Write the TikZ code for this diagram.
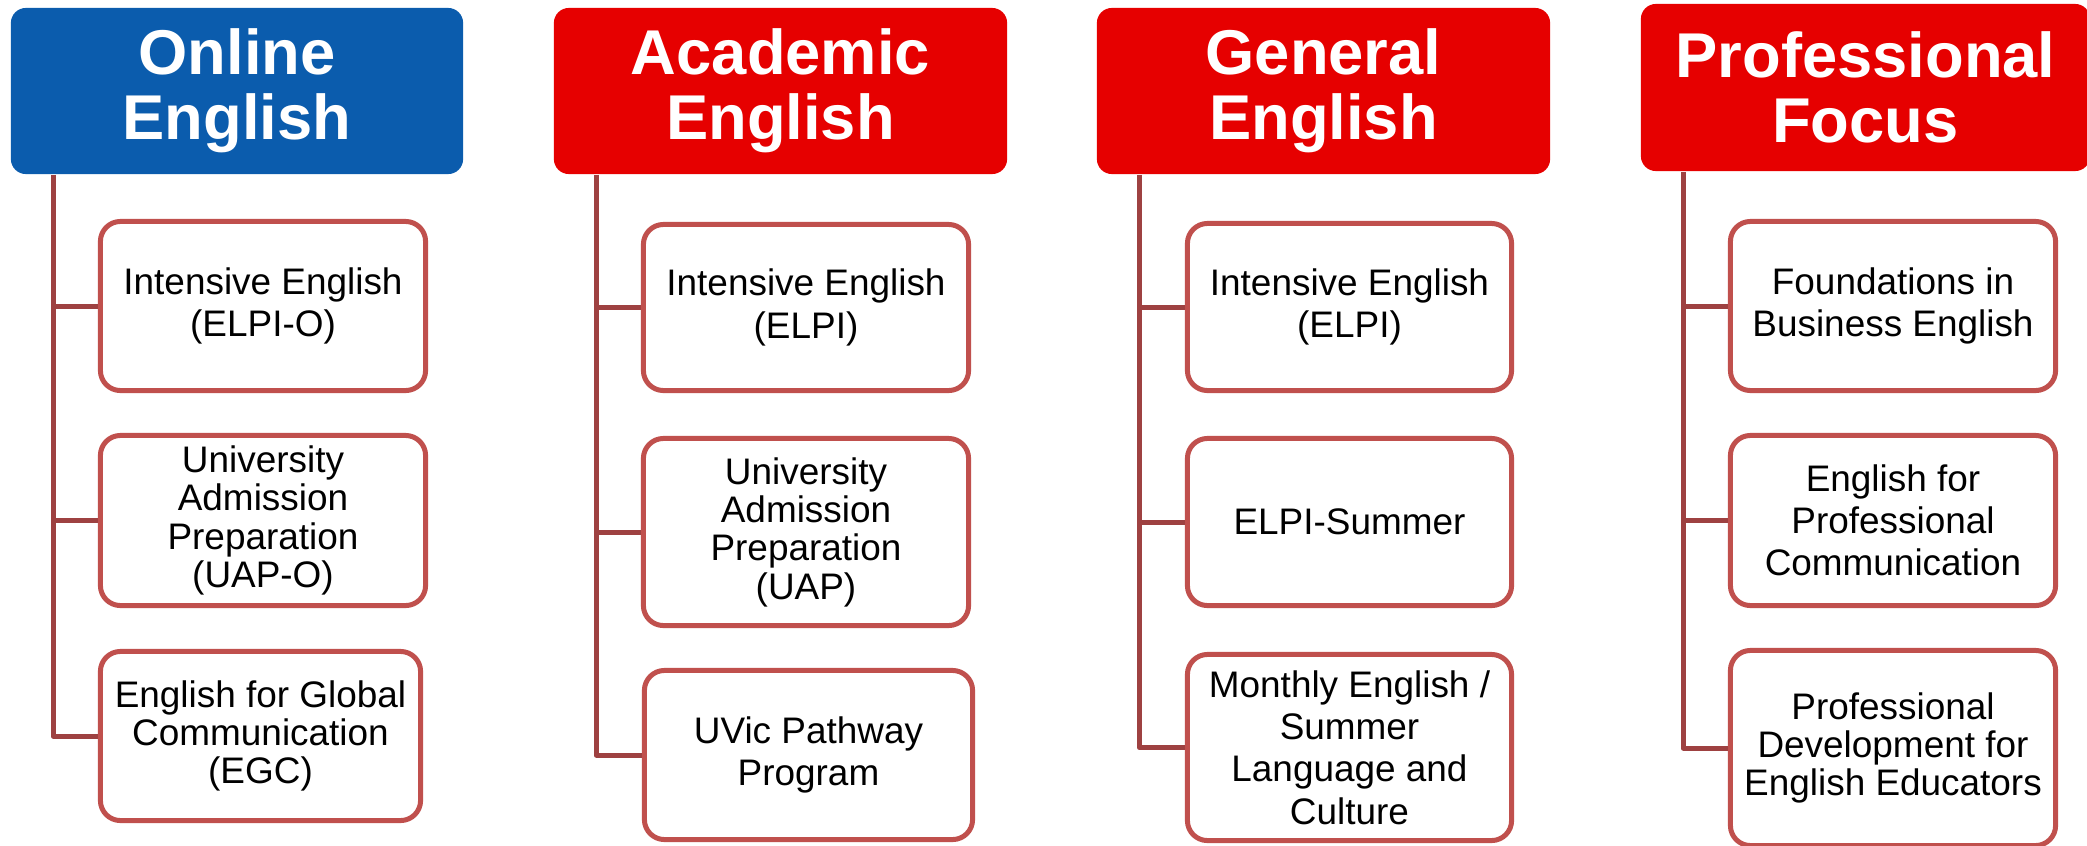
\documentclass[tikz,border=0pt]{standalone}
\usepackage{fontspec}
\setmainfont{Liberation Sans}
\usepackage{xcolor}

\definecolor{headblue}{HTML}{0B5CAD}
\definecolor{headred}{HTML}{E60000}
\definecolor{boxred}{HTML}{C0504D}
\definecolor{linkred}{HTML}{9E4141}

\begin{document}
\begin{tikzpicture}[x=0.01cm, y=-0.01cm,
  head/.style={fill=#1, rounded corners=0.15cm, text=white, inner sep=0pt,
    font=\fontsize{18}{18.5}\selectfont\bfseries, align=center},
  item/.style={draw=boxred, line width=0.05cm, fill=white, rounded corners=0.2cm,
    inner sep=0pt, font=\fontsize{10.5}{12}\selectfont, align=center},
  tight/.style={font=\fontsize{10.5}{10.9}\selectfont},
  link/.style={draw=linkred, line width=0.05cm, line join=round}]

\useasboundingbox (0,0) rectangle (2087,845);

% headers
\node[head=headblue, minimum width=4.52cm, minimum height=1.66cm] (online) at (237,91) {Online\\English};
\node[head=headred, minimum width=4.53cm, minimum height=1.66cm] (academic) at (780.5,91) {Academic\\English};
\node[head=headred, minimum width=4.53cm, minimum height=1.66cm] (general) at (1323.5,91) {General\\English};
\node[head=headred, minimum width=4.49cm, minimum height=1.67cm] (prof) at (1865.5,87.5) {Professional\\Focus};

% Online English
\node[item, minimum width=3.25cm, minimum height=1.69cm] (online1) at (263,306) {Intensive English\\(ELPI-O)};
\node[item, tight, minimum width=3.25cm, minimum height=1.70cm] (online2) at (263,520.5) {University\\Admission\\Preparation\\(UAP-O)};
\node[item, tight, minimum width=3.20cm, minimum height=1.69cm] (online3) at (260.5,736) {English for Global\\Communication\\(EGC)};

% Academic English
\node[item, minimum width=3.25cm, minimum height=1.66cm] (academic1) at (806,307.5) {Intensive English\\(ELPI)};
\node[item, tight, minimum width=3.25cm, minimum height=1.87cm] (academic2) at (806,532) {University\\Admission\\Preparation\\(UAP)};
\node[item, minimum width=3.28cm, minimum height=1.69cm] (academic3) at (808.5,755) {UVic Pathway\\Program};

% General English
\node[item, minimum width=3.24cm, minimum height=1.67cm] (general1) at (1349.5,307) {Intensive English\\(ELPI)};
\node[item, minimum width=3.24cm, minimum height=1.67cm] (general2) at (1349.5,522) {ELPI-Summer};
\node[item, minimum width=3.24cm, minimum height=1.86cm] (general3) at (1349.5,747.5) {Monthly English /\\Summer\\Language and\\Culture};

% Professional Focus
\node[item, minimum width=3.25cm, minimum height=1.69cm] (prof1) at (1893,306) {Foundations in\\Business English};
\node[item, minimum width=3.25cm, minimum height=1.70cm] (prof2) at (1893,520.5) {English for\\Professional\\Communication};
\node[item, tight, minimum width=3.25cm, minimum height=1.95cm] (prof3) at (1893,748) {Professional\\Development for\\English Educators};

% connectors
\foreach \col in {online, academic, general, prof} {
  \coordinate (\col s) at ([xshift=0.43cm]\col.south west);
  \draw[link] (\col s) |- (\col3.west);
  \draw[link] (\col s |- \col1.west) -- (\col1.west);
  \draw[link] (\col s |- \col2.west) -- (\col2.west);
}

\end{tikzpicture}
\end{document}
